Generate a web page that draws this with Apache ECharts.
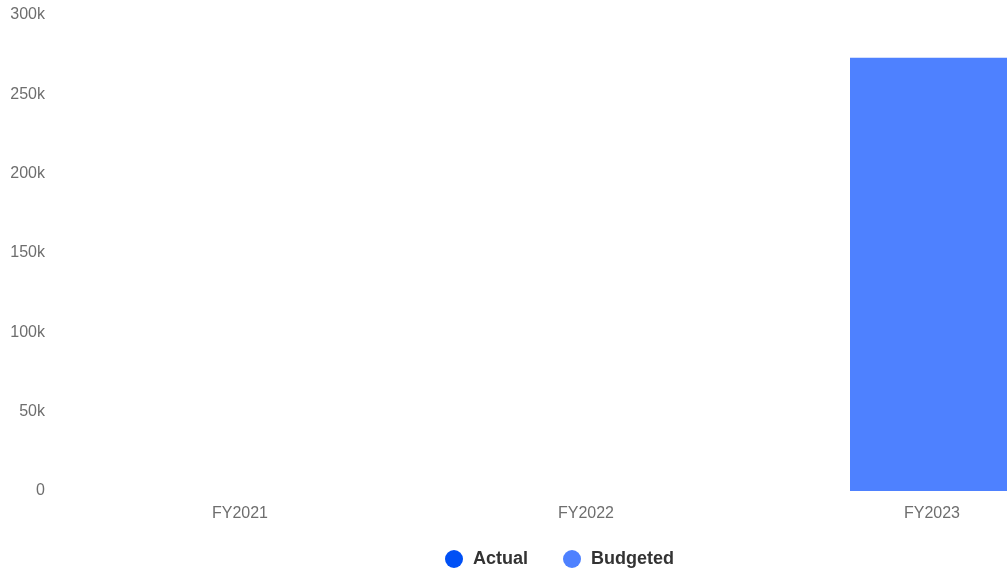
<!DOCTYPE html>
<html>
<head>
<meta charset="utf-8">
<script src="https://cdn.jsdelivr.net/npm/echarts@6/dist/echarts.min.js"></script>
<style>html,body{margin:0;padding:0;background:#fff}#c{width:1007px;height:573px}</style>
</head>
<body>
<div id="c"></div>
<script>
var categories = ['FY2021', 'FY2022', 'FY2023'];
var actualValues = [null, null, null];
var budgetedValues = [null, null, 273000];
var seriesNames = ['Actual', 'Budgeted'];

var chart = echarts.init(document.getElementById('c'));
var font = 'Liberation Sans, Arial, Helvetica, sans-serif';
chart.setOption({
  animation: false,
  textStyle: { fontFamily: font },
  grid: { left: 67, top: 15, right: -98, bottom: 82, containLabel: false, outerBoundsMode: 'none' },
  legend: {
    data: seriesNames,
    left: 445, top: 550, padding: 0,
    icon: 'circle', itemWidth: 18, itemHeight: 18, itemGap: 35,
    textStyle: { fontSize: 18, fontWeight: 'bold', color: '#333', fontFamily: font, padding: [0,0,0,5] }
  },
  xAxis: {
    type: 'category', data: categories,
    axisLine: { show: false }, axisTick: { show: false },
    axisLabel: { fontSize: 16, color: '#6e6e6e', margin: 15, fontFamily: font }
  },
  yAxis: {
    type: 'value', min: 0, max: 300000, interval: 50000,
    splitLine: { show: false }, axisLine: { show: false }, axisTick: { show: false },
    axisLabel: { fontSize: 16, color: '#6e6e6e', margin: 22, fontFamily: font,
      formatter: function (v) { return v === 0 ? '0' : (v / 1000) + 'k'; } }
  },
  series: [
    { name: seriesNames[0], type: 'bar', stack: 's', data: actualValues, barWidth: 164, itemStyle: { color: '#0050f5' } },
    { name: seriesNames[1], type: 'bar', stack: 's', data: budgetedValues, barWidth: 164, itemStyle: { color: '#4e81ff' } }
  ]
});
</script>
</body>
</html>
